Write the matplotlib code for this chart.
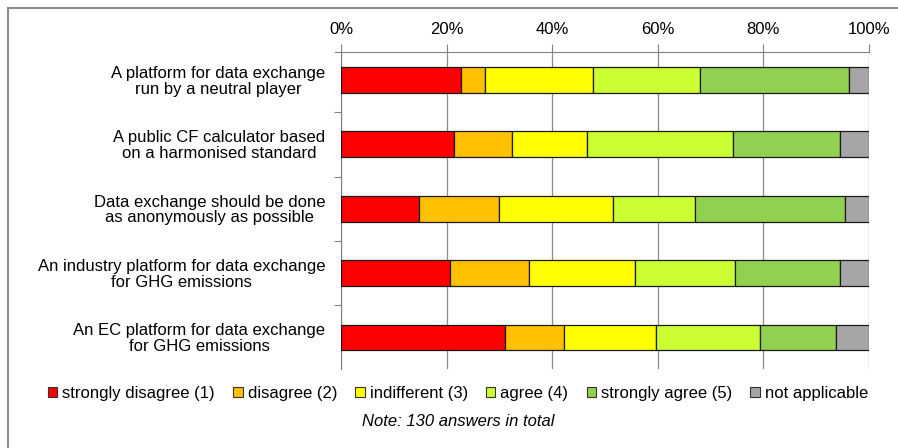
import matplotlib.pyplot as plt
from matplotlib.patches import Patch
from matplotlib.lines import Line2D

# statements (top to bottom)
statements = [
    "A platform for data exchange\nrun by a neutral player",
    "A public CF calculator based\non a harmonised standard",
    "Data exchange should be done\nas anonymously as possible",
    "An industry platform for data exchange\nfor GHG emissions",
    "An EC platform for data exchange\nfor GHG emissions",
]
categories = ["strongly disagree (1)", "disagree (2)", "indifferent (3)",
              "agree (4)", "strongly agree (5)", "not applicable"]
colors = ["#ff0000", "#ffc000", "#ffff00", "#ccff33", "#92d050", "#a6a6a6"]

# shares in percent, one list per answer category
strongly_disagree = [22.7, 21.4, 14.7, 20.7, 31.0]
disagree = [4.6, 10.9, 15.3, 14.9, 11.2]
indifferent = [20.5, 14.2, 21.6, 20.0, 17.4]
agree = [20.2, 27.7, 15.5, 19.0, 19.8]
strongly_agree = [28.2, 20.3, 28.4, 19.9, 14.4]
not_applicable = [3.8, 5.5, 4.5, 5.5, 6.2]
series = [strongly_disagree, disagree, indifferent, agree, strongly_agree, not_applicable]

plt.rcParams['font.family'] = ['Liberation Sans', 'DejaVu Sans']

fig = plt.figure(figsize=(8.98, 4.48), dpi=100)
ax = fig.add_axes([341 / 898, 1 - 369 / 448, 528 / 898, 317 / 448])

ypos = list(range(len(statements)))
left = [0] * len(statements)
for vals, col, lab in zip(series, colors, categories):
    ax.barh(ypos, vals, left=left, height=0.40, color=col,
            edgecolor="#1a1a1a", linewidth=0.9, label=lab, zorder=3)
    left = [a + b for a, b in zip(left, vals)]

ax.set_xlim(0, 100)
ax.set_ylim(4.49, -0.435)
ax.xaxis.tick_top()
ax.set_xticks([0, 20, 40, 60, 80, 100])
ax.set_xticklabels(["0%", "20%", "40%", "60%", "80%", "100%"], fontsize=12)
ax.tick_params(axis='x', length=6, color="#808080", pad=5)
ax.grid(axis='x', color="#8c8c8c", linewidth=0.9, zorder=0)
ax.set_yticks([i + 0.5 for i in range(len(statements) - 1)])
ax.set_yticklabels([])
ax.tick_params(axis='y', length=5, color="#808080")
for i, s in enumerate(statements):
    ax.text(-3.0, i + 0.02, s, ha='right', va='center', multialignment='center',
            fontsize=12, linespacing=1.08)

for sp in ['right', 'bottom']:
    ax.spines[sp].set_visible(False)
ax.spines['top'].set_color("#808080")
ax.spines['left'].set_color("#808080")
ax.spines['top'].set_bounds(-1.2, 100)

handles = [Patch(facecolor=c, edgecolor="#333333", linewidth=0.8) for c in colors]
fig.legend(handles, categories, loc='center', bbox_to_anchor=(458 / 898, 1 - 393 / 448),
           ncol=6, frameon=False, fontsize=12, handlelength=0.55, handleheight=0.55,
           handletextpad=0.3, columnspacing=1.1)
fig.text(458 / 898, 1 - 421 / 448, "Note: 130 answers in total", ha='center', va='center',
         fontsize=12, style='italic')

# outer frame (top and left edges)
fig.add_artist(Line2D([8 / 898, 1], [1 - 8 / 448, 1 - 8 / 448], color="#8c8c8c", linewidth=1.5))
fig.add_artist(Line2D([8 / 898, 8 / 898], [0, 1 - 8 / 448], color="#8c8c8c", linewidth=1.5))

fig.savefig("out.png", dpi=100)
